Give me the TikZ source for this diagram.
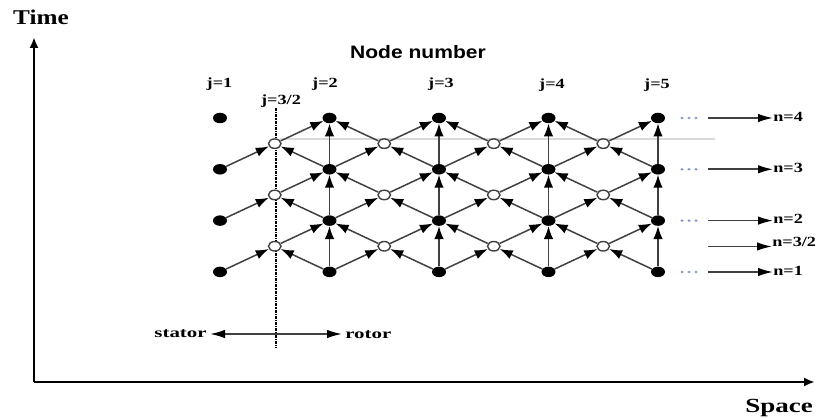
\documentclass[tikz,border=0pt]{standalone}
\usepackage{fontspec}
\setmainfont{Liberation Serif}
\newfontfamily\headfont{Liberation Sans}
\usetikzlibrary{shapes.geometric,arrows.meta}

\begin{document}
\begin{tikzpicture}[x=1pt,y=-1pt,
    full/.style={ellipse,fill=black,inner sep=0pt,minimum width=14pt,minimum height=10.5pt},
    hollow/.style={ellipse,draw=black!75,fill=white,line width=1.4pt,inner sep=0pt,minimum width=12.5pt,minimum height=9.5pt},
    link/.style={draw=black!75,line width=1.5pt,-{Latex[length=13pt,width=9.5pt,black]}},
    axis/.style={line width=2.6pt,-{Latex[length=11pt,width=9pt]}},
    level/.style={draw=black!75,line width=1.6pt,-{Latex[length=15pt,width=8.5pt,black]}},
    lbl/.style={font=\fontsize{14}{14}\selectfont\bfseries,xscale=1.3,inner sep=0pt},
    side/.style={lbl,xscale=1.15,inner xsep=2pt},
    dotc/.style={fill={rgb,255:red,130;green,150;blue,200}}]
\useasboundingbox (0,0) rectangle (822,419);

% axes
\coordinate (origin) at (34,382);
\coordinate (ttop) at (34,37);
\coordinate (sright) at (815,382);
\draw[axis] (origin) -- (ttop);
\draw[axis] (origin) -- (sright);
\node (time) [font=\fontsize{21}{21}\selectfont\bfseries,xscale=1.2,inner sep=0pt] at (41,17) {Time};
\node (space) [font=\fontsize{20}{20}\selectfont\bfseries,xscale=1.35,inner sep=0pt,anchor=base] at (779,413) {Space};
\node (title) [font=\headfont\fontsize{18}{18}\selectfont\bfseries,xscale=1.17,inner sep=0pt] at (418,52) {Node number};

% light guide line
\draw[black!15,line width=1.4pt] (280,139) -- (715,139);

% interface
\coordinate (dtop) at (276,108);
\coordinate (dbot) at (276,348);
\draw[line width=1.3pt,densely dash dot] (dtop) -- (dbot);

% nodes
\foreach \j in {1,...,5}{
    \foreach \n in {1,...,4}
        \node[full] (f-\j-\n) at ({220+109.5*(\j-1)},{118+51.3*(4-\n)}) {};
}
\foreach \j in {1,...,4}{
    \foreach \n in {1,...,3}
        \node[hollow] (o-\j-\n) at ({220+109.5*(\j-0.5)},{118+51.3*(3.5-\n)}) {};
}

% links
\foreach \j/\k in {1/2,2/3,3/4,4/5}{
    \foreach \n/\m in {1/2,2/3,3/4}{
        \draw[link] (f-\j-\n) -- (o-\j-\n);
        \draw[link] (f-\k-\n) -- (o-\j-\n);
        \draw[link] (o-\j-\n) -- (f-\k-\m);
        \draw[link] (f-\k-\n) -- (f-\k-\m);
    }
}
\foreach \j in {2,3,4}{
    \foreach \n/\m in {1/2,2/3,3/4}
        \draw[link] (o-\j-\n) -- (f-\j-\m);
}

% column labels
\node[lbl] (j1) at (219.5,84) {j=1};
\node[lbl] (j2) at (325,84) {j=2};
\node[lbl] (j3) at (441,84) {j=3};
\node[lbl] (j4) at (552,85) {j=4};
\node[lbl] (j5) at (657,85) {j=5};
\node[lbl] (jh) at (281,101) {j=3/2};

% time levels
\foreach \n/\y/\t in {4/118/{n=4},3/169.3/{n=3},2/220.6/{n=2},1/272/{n=1}}{
    \foreach \d in {-7,0,7}
        \fill[dotc] ({689+\d},\y) ellipse (1.7pt and 1.3pt);
    \coordinate (s-\n) at (708,\y);
    \node[lbl,anchor=west] (lev-\n) at (773,\y-1.5) {\t};
    \draw[level] (s-\n) -- (s-\n -| lev-\n.west);
}
\coordinate (s-h) at (708,246.5);
\node[lbl,anchor=west] (lev-h) at (772,242) {n=3/2};
\draw[level] (s-h) -- (s-h -| lev-h.west);

% stator / rotor
\coordinate (split) at (276,334);
\node[side,anchor=east] (stator) at (210,334) {stator};
\node[side,anchor=west] (rotor) at (342,335) {rotor};
\draw[level] (split) -- (stator.east);
\draw[level] (split) -- (split -| rotor.west);
\end{tikzpicture}
\end{document}
